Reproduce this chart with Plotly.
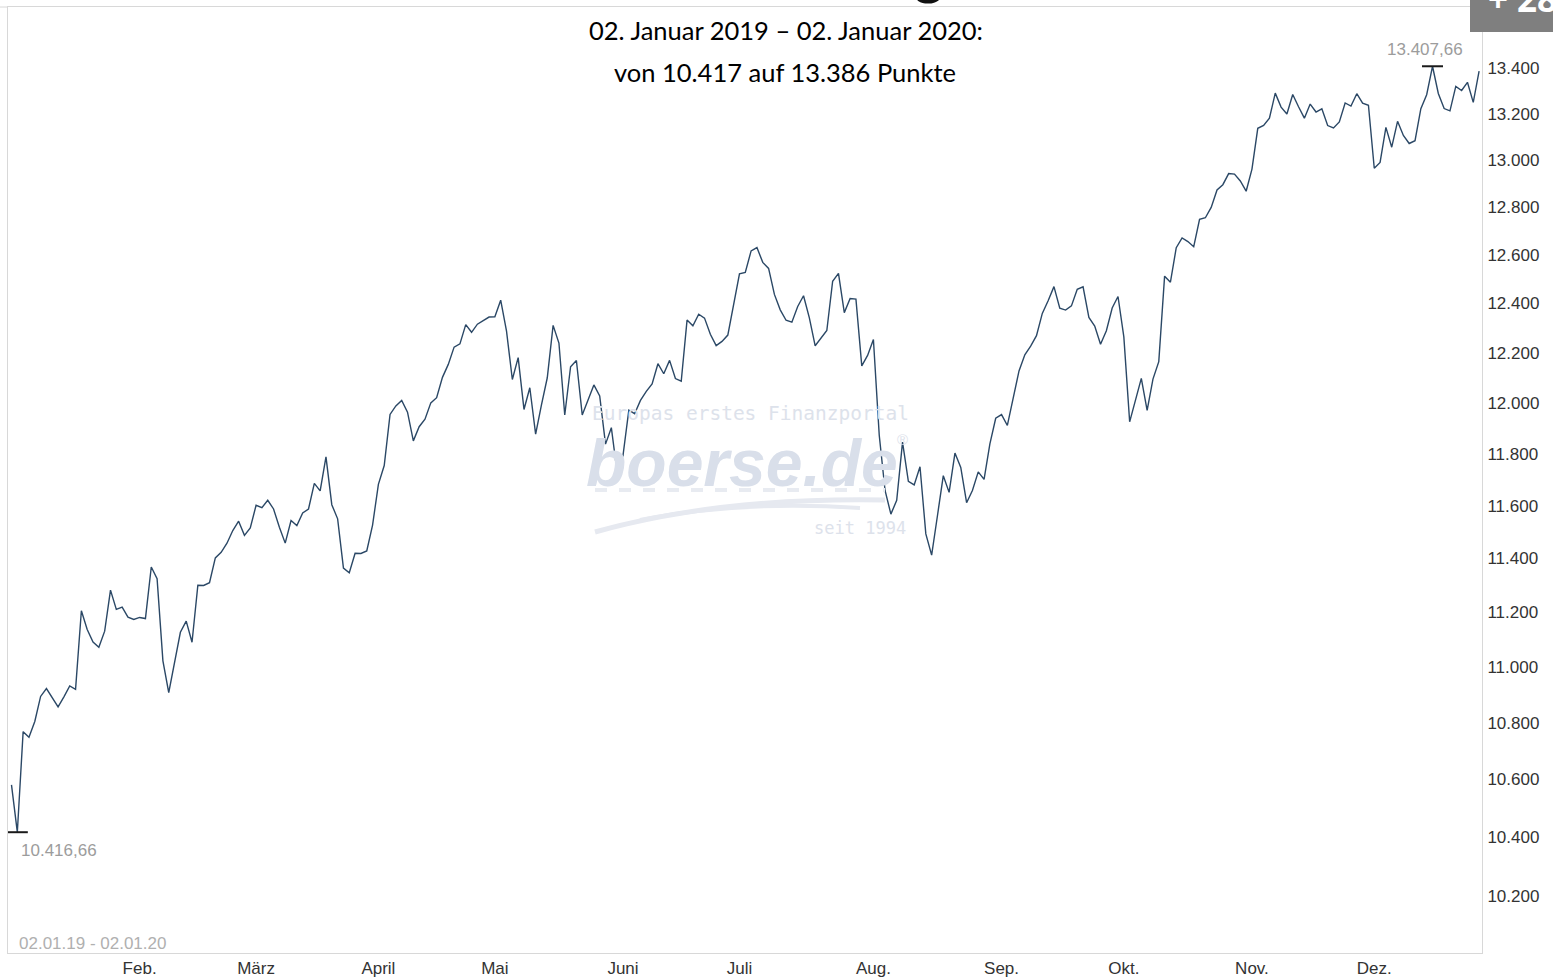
import numpy as np
import pandas as pd
import plotly.graph_objects as go

# ---------------- data (DAX daily closes) ----------------
holidays = ["2019-04-19", "2019-04-22", "2019-05-01", "2019-10-03",
            "2019-12-24", "2019-12-25", "2019-12-26", "2019-12-31", "2020-01-01"]

closes_jan = [10580.19, 10416.66, 10767.69, 10747.81, 10803.98, 10893.32, 10921.59, 10887.46,
              10855.91, 10891.79, 10931.24, 10918.62, 11205.54, 11136.20, 11090.11, 11071.54,
              11130.18, 11281.79, 11210.31, 11218.83, 11181.66, 11173.10]
closes_feb = [11180.66, 11176.58, 11367.98, 11324.72, 11022.02, 10906.78, 11014.59, 11126.08,
              11167.22, 11089.79, 11299.80, 11299.20, 11309.21, 11401.97, 11423.28, 11457.70,
              11505.39, 11540.79, 11487.33, 11515.64]
closes_mar = [11601.68, 11592.66, 11620.74, 11587.63, 11517.80, 11457.84, 11543.48, 11524.17,
              11572.41, 11587.47, 11685.69, 11657.06, 11788.41, 11603.89, 11549.96, 11364.17,
              11346.65, 11419.48, 11419.04, 11428.16, 11526.04]
closes_apr = [11681.99, 11754.56, 11954.40, 11988.01, 12009.75, 11963.40, 11850.57, 11905.91,
              11935.20, 11999.93, 12020.28, 12101.27, 12153.07, 12222.39, 12235.61, 12313.17,
              12282.28, 12315.18, 12328.02, 12344.08]
closes_may = [12345.42, 12412.75, 12286.88, 12092.74, 12179.93, 11973.92, 12059.83, 11876.65,
              11991.62, 12099.57, 12310.37, 12238.94, 11951.93, 12143.47, 12168.76, 11952.35,
              12011.04, 12071.21, 12027.05, 11837.81, 11902.09, 11726.84]
closes_jun = [11792.81, 11971.17, 11957.08, 12009.65, 12045.38, 12075.30, 12155.77, 12115.68,
              12169.05, 12096.40, 12085.82, 12331.75, 12308.53, 12355.39, 12339.92, 12274.57,
              12228.44, 12245.37, 12271.03, 12398.80]
closes_jul = [12521.38, 12526.72, 12616.32, 12629.90, 12568.53, 12543.51, 12436.55, 12373.41,
              12331.25, 12323.32, 12387.34, 12430.97, 12341.01, 12227.85, 12260.07, 12289.40,
              12490.74, 12522.89, 12362.10, 12419.90, 12417.47, 12147.24, 12189.04]
closes_aug = [12253.15, 11872.44, 11658.51, 11567.96, 11620.74, 11845.41, 11693.80, 11679.68,
              11750.13, 11492.66, 11412.67, 11562.74, 11715.37, 11651.18, 11802.85, 11747.04,
              11611.51, 11658.04, 11730.02, 11701.02, 11838.88, 11939.28]
closes_sep = [11953.78, 11910.86, 12025.04, 12126.78, 12191.73, 12226.10, 12268.71, 12359.07,
              12410.25, 12468.53, 12380.31, 12372.61, 12389.62, 12457.70, 12468.01, 12342.33,
              12307.15, 12234.18, 12288.54, 12380.94, 12428.08]
closes_oct = [12263.83, 11925.25, 12012.81, 12097.43, 11970.20, 12094.26, 12164.20, 12511.65,
              12486.56, 12629.79, 12670.11, 12654.95, 12633.60, 12747.96, 12754.69, 12798.19,
              12872.10, 12894.51, 12941.71, 12939.62, 12910.23, 12866.79]
closes_nov = [12961.05, 13136.28, 13148.50, 13179.89, 13289.46, 13228.56, 13198.37, 13283.51,
              13230.07, 13180.23, 13241.75, 13207.01, 13221.12, 13148.19, 13137.70, 13163.88,
              13246.45, 13232.96, 13287.07, 13245.58, 13236.38]
closes_dec = [12964.68, 12989.29, 13140.57, 13054.80, 13166.58, 13105.60, 13070.72, 13082.63,
              13221.64, 13282.72, 13407.66, 13287.83, 13222.16, 13211.96, 13318.90, 13300.98,
              13337.11, 13249.01]
closes_jan20 = [13385.93]

month_labels = ["Feb.", "März", "April", "Mai", "Juni", "Juli", "Aug.", "Sep.", "Okt.", "Nov.", "Dez."]
y_ticks = [10200, 10400, 10600, 10800, 11000, 11200, 11400, 11600, 11800, 12000,
           12200, 12400, 12600, 12800, 13000, 13200, 13400]

subtitle_1 = "02. Januar 2019 – 02. Januar 2020:"
subtitle_2 = "von 10.417 auf 13.386 Punkte"
period_label = "02.01.19 - 02.01.20"

# ---------------- build series ----------------
closes = (closes_jan + closes_feb + closes_mar + closes_apr + closes_may + closes_jun +
          closes_jul + closes_aug + closes_sep + closes_oct + closes_nov + closes_dec + closes_jan20)
days = [d for d in pd.bdate_range("2019-01-02", "2020-01-02") if d.strftime("%Y-%m-%d") not in holidays]
dates = [d.strftime("%Y-%m-%d") for d in days]
assert len(dates) == len(closes), (len(dates), len(closes))

# first trading day of each month Feb..Dec
tick_dates = []
seen = set()
for d in days:
    key = (d.year, d.month)
    if key not in seen:
        seen.add(key)
        if d.year == 2019 and d.month >= 2:
            tick_dates.append(d.strftime("%Y-%m-%d"))


def de_num(v, dec=0):
    s = f"{v:,.{dec}f}"
    return s.replace(",", "X").replace(".", ",").replace("X", ".")


y_labels = [de_num(v) for v in y_ticks]
imin = int(np.argmin(closes))
imax = int(np.argmax(closes))

# ---------------- geometry ----------------
W, H = 1553, 977
ML, MR, MT, MB = 8, 71, 7, 24
PW, PH = W - ML - MR, H - MT - MB


def px(x):
    return (x - ML) / PW


def py(y):
    return (H - MB - y) / PH


AX_FONT = "Liberation Sans, Arial, sans-serif"
WM = "#dde2eb"
WM_MONO = "DejaVu Sans Mono, monospace"

fig = go.Figure()
fig.add_trace(go.Scatter(x=dates, y=closes, mode="lines",
                         line=dict(color="#2b4866", width=1.4), hoverinfo="x+y", showlegend=False))
fig.add_trace(go.Scatter(x=[dates[imin], dates[imax]], y=[closes[imin], closes[imax]], mode="markers",
                         marker=dict(symbol="line-ew", size=15, color="#1a1a1a",
                                     line=dict(width=2, color="#1a1a1a")),
                         hoverinfo="skip", showlegend=False))

annotations = [
    dict(x=dates[imin], y=np.log10(closes[imin]), xref="x", yref="y", text=de_num(closes[imin], 2),
         showarrow=False, xanchor="left", yanchor="top", xshift=2, yshift=-7,
         font=dict(family=AX_FONT, size=17, color="#9c9c9c")),
    dict(x=dates[imax], y=np.log10(closes[imax]), xref="x", yref="y", text=de_num(closes[imax], 2),
         showarrow=False, xanchor="center", yanchor="bottom", xshift=-8, yshift=5,
         font=dict(family=AX_FONT, size=17, color="#9c9c9c")),
    dict(x=px(17), y=py(943), xref="paper", yref="paper", text=period_label, showarrow=False,
         xanchor="left", yanchor="middle", font=dict(family=AX_FONT, size=17, color="#b0b0b0")),
    dict(x=px(786), y=py(30), xref="paper", yref="paper", text=subtitle_1, showarrow=False,
         xanchor="center", yanchor="middle", font=dict(family="Lato, sans-serif", size=25.5, color="#000")),
    dict(x=px(785), y=py(72), xref="paper", yref="paper", text=subtitle_2, showarrow=False,
         xanchor="center", yanchor="middle", font=dict(family="Lato, sans-serif", size=25.5, color="#000")),
    # cropped headline (only its descender peeks into view)
    dict(x=px(946), y=py(8), xref="paper", yref="paper", text="<b>DAX-Entwicklung</b>", showarrow=False,
         xanchor="right", yanchor="bottom", font=dict(family="Lato, sans-serif", size=56, color="#111")),
    # badge text
    dict(x=px(1486), y=py(24), xref="paper", yref="paper", text="<b>+ 28,5 %</b>", showarrow=False,
         xanchor="left", yanchor="bottom", font=dict(family="Open Sans, sans-serif", size=35, color="#fff")),
    # watermark
    dict(x=px(750), y=py(413), xref="paper", yref="paper", text="Europas erstes Finanzportal", showarrow=False,
         xanchor="center", yanchor="middle", font=dict(family=WM_MONO, size=19.5, color=WM)),
    dict(x=px(742), y=py(463), xref="paper", yref="paper", text="<b><i>boerse.de</i></b>", showarrow=False,
         xanchor="center", yanchor="middle", font=dict(family=AX_FONT, size=66, color="#d9dfea")),
    dict(x=px(903), y=py(440), xref="paper", yref="paper", text="®", showarrow=False,
         xanchor="center", yanchor="middle", font=dict(family=AX_FONT, size=15, color=WM)),
    dict(x=px(860), y=py(528), xref="paper", yref="paper", text="seit 1994", showarrow=False,
         xanchor="center", yanchor="middle", font=dict(family=WM_MONO, size=17, color=WM)),
]

shapes = [
    dict(type="rect", xref="paper", yref="paper", x0=px(1470), x1=px(1560), y0=py(32), y1=py(-5),
         fillcolor="#7f7f7f", line=dict(width=0), layer="above"),
    dict(type="line", xref="paper", yref="paper", x0=px(0), x1=px(ML), y0=py(MT), y1=py(MT),
         line=dict(color="#d8d8d8", width=1)),
    # watermark swooshes
    dict(type="path", xref="paper", yref="paper", line=dict(color="#e6e9f0", width=5),
         path=f"M {px(595)},{py(532)} Q {px(720)},{py(497)} {px(885)},{py(500)}"),
    dict(type="path", xref="paper", yref="paper", line=dict(color="#e6e9f0", width=4),
         path=f"M {px(640)},{py(520)} Q {px(740)},{py(500)} {px(860)},{py(508)}"),
    dict(type="line", xref="paper", yref="paper", x0=px(595), x1=px(885), y0=py(490), y1=py(490),
         line=dict(color="#e8ebf1", width=4, dash="dash")),
]

fig.update_layout(
    width=W, height=H,
    margin=dict(l=ML, r=MR, t=MT, b=MB, pad=0, autoexpand=False),
    paper_bgcolor="#ffffff", plot_bgcolor="rgba(0,0,0,0)",
    showlegend=False,
    annotations=annotations,
    shapes=shapes,
    xaxis=dict(type="category", categoryorder="array", categoryarray=dates, automargin=False,
               range=[-0.6, len(dates) - 0.5], tickvals=tick_dates, ticktext=month_labels,
               showgrid=False, zeroline=False, ticks="", showline=True, mirror=True,
               linecolor="#d8d8d8", linewidth=1,
               tickfont=dict(family=AX_FONT, size=17, color="#333333"), ticklabelstandoff=0),
    yaxis=dict(type="log", range=[4.000441, 4.135836], side="right", automargin=False,
               tickvals=y_ticks, ticktext=y_labels, showgrid=False, zeroline=False, ticks="",
               showline=True, mirror=True, linecolor="#d8d8d8", linewidth=1,
               tickfont=dict(family=AX_FONT, size=17, color="#333333"), ticklabelstandoff=1),
)

fig.write_html("out.html", config={"displayModeBar": False},
               post_script="document.body.style.margin='0';document.body.style.overflow='hidden';")
